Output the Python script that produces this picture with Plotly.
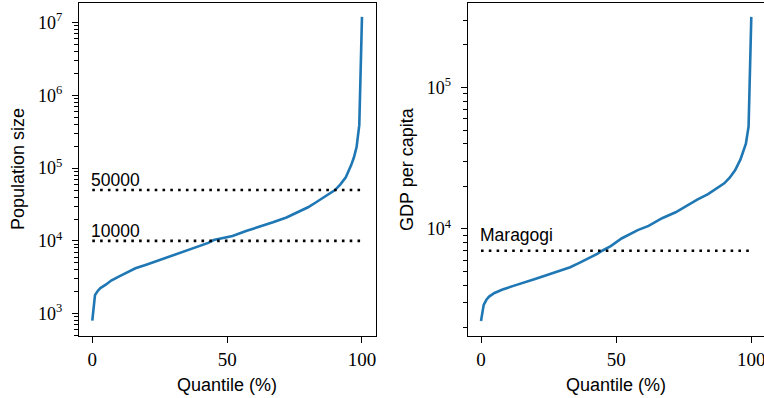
import math
import plotly.graph_objects as go

# Quantile curves (percent -> value)
pop_quantile = [0, 1, 2, 3, 5, 7, 10, 13, 16, 20, 25, 30, 35, 40, 43, 45, 48, 52, 57,
                62, 67, 72, 77, 80, 83, 86, 88, 90, 92, 94, 96, 97, 98, 99, 100]
pop_size = [800, 1800, 2050, 2250, 2500, 2850, 3250, 3650, 4200, 4700, 5450, 6300,
            7300, 8600, 9400, 10300, 10800, 11700, 13700, 15600, 18000, 21000, 26000,
            29000, 34000, 40000, 45000, 50000, 60000, 75000, 110000, 140000, 195000,
            390000, 12000000]

gdp_quantile = [0, 1, 2, 3, 5, 8, 12, 16, 20, 25, 30, 33, 36, 40, 43, 45, 48, 52, 55,
                58, 62, 67, 72, 76, 80, 84, 87, 90, 92, 94, 96, 97, 98, 99, 100]
gdp_per_capita = [2230, 2900, 3150, 3320, 3520, 3720, 3950, 4200, 4420, 4750, 5100,
                  5350, 5700, 6200, 6650, 7030, 7550, 8550, 9200, 9800, 10500, 11900,
                  13100, 14600, 16100, 17600, 19200, 21000, 23000, 26000, 31000, 35000,
                  40000, 53000, 316000]

pop_thresholds = [50000, 10000]
pop_threshold_labels = ["50000", "10000"]
maragogi_gdp = 7000
maragogi_label = "Maragogi"

x_ticks = [0, 50, 100]
pop_ticks = [1e3, 1e4, 1e5, 1e6, 1e7]
pop_tick_text = ["10<sup>3</sup>", "10<sup>4</sup>", "10<sup>5</sup>", "10<sup>6</sup>", "10<sup>7</sup>"]
gdp_ticks = [1e4, 1e5]
gdp_tick_text = ["10<sup>4</sup>", "10<sup>5</sup>"]

W, H = 764, 398
BLUE = "#1f77b4"
SANS = "Liberation Sans, Arial, sans-serif"
SERIF = "Liberation Serif, Times New Roman, serif"


def minor_logs(lo, hi):
    vals = []
    for e in range(lo, hi + 1):
        for m in range(2, 10):
            vals.append(m * 10 ** e)
    return vals


fig = go.Figure()

fig.add_trace(go.Scatter(x=pop_quantile, y=pop_size, mode="lines",
                         line=dict(color=BLUE, width=2.6), xaxis="x", yaxis="y",
                         showlegend=False))
for val in pop_thresholds:
    fig.add_trace(go.Scatter(x=[0, 100], y=[val, val], mode="lines",
                             line=dict(color="black", width=2.6, dash="2.6px,5.2px"),
                             xaxis="x", yaxis="y", showlegend=False))

fig.add_trace(go.Scatter(x=gdp_quantile, y=gdp_per_capita, mode="lines",
                         line=dict(color=BLUE, width=2.6), xaxis="x2", yaxis="y2",
                         showlegend=False))
fig.add_trace(go.Scatter(x=[0, 100], y=[maragogi_gdp, maragogi_gdp], mode="lines",
                         line=dict(color="black", width=2.6, dash="2.6px,5.2px"),
                         xaxis="x2", yaxis="y2", showlegend=False))

axis_common = dict(showline=True, linecolor="black", linewidth=1.1, mirror=True,
                   showgrid=False, zeroline=False, ticks="outside", ticklen=6,
                   tickwidth=1.1, tickcolor="black", automargin=False,
                   ticklabeloverflow="allow")

xdom1 = [79 / W, 376 / W]
xdom2 = [467.7 / W, 1.0]
ydom = [(H - 336) / H, 1 - 3 / H]

fig.update_layout(
    width=W, height=H, margin=dict(l=0, r=0, t=0, b=0),
    paper_bgcolor="white", plot_bgcolor="white",
    xaxis=dict(domain=xdom1, range=[-4.93, 105.2], tickvals=x_ticks,
               tickfont=dict(family=SERIF, size=19, color="black"),
               anchor="y", **axis_common),
    yaxis=dict(domain=ydom, type="log", range=[2.693, 7.27], tickvals=pop_ticks,
               ticktext=pop_tick_text, anchor="x", ticklabelstandoff=6,
               tickfont=dict(family=SERIF, size=18, color="black"),
               minor=dict(tickvals=minor_logs(2, 7), ticks="outside", ticklen=3.5,
                          tickwidth=0.9, tickcolor="black", showgrid=False),
               **axis_common),
    xaxis2=dict(domain=xdom2, range=[-4.92, 104.7], tickvals=x_ticks,
                tickfont=dict(family=SERIF, size=19, color="black"),
                anchor="y2", **axis_common),
    yaxis2=dict(domain=ydom, type="log", range=[3.242, 5.598], tickvals=gdp_ticks,
                ticktext=gdp_tick_text, anchor="x2", ticklabelstandoff=6,
                tickfont=dict(family=SERIF, size=18, color="black"),
                minor=dict(tickvals=minor_logs(3, 5), ticks="outside", ticklen=3.5,
                           tickwidth=0.9, tickcolor="black", showgrid=False),
                **axis_common),
)

# Labels sitting on the reference lines (log axes take log10 positions)
label_font = dict(family=SANS, size=17.5, color="black")
annotations = []
for val, label in zip(pop_thresholds, pop_threshold_labels):
    annotations.append(dict(x=0, y=math.log10(val), xref="x", yref="y", text=label,
                            showarrow=False, xanchor="left", yanchor="bottom",
                            yshift=-2, xshift=-3, font=label_font))
annotations.append(dict(x=0, y=math.log10(maragogi_gdp), xref="x2", yref="y2",
                        text=maragogi_label, showarrow=False, xanchor="left",
                        yanchor="bottom", yshift=4, xshift=-3, font=label_font))

# Axis titles
title_font = dict(family=SANS, size=18, color="black")
annotations += [
    dict(x=18 / W, y=1 - 169 / H, xref="paper", yref="paper", text="Population size",
         textangle=-90, showarrow=False, xanchor="center", yanchor="middle",
         font=title_font),
    dict(x=407 / W, y=1 - 169 / H, xref="paper", yref="paper", text="GDP per capita",
         textangle=-90, showarrow=False, xanchor="center", yanchor="middle",
         font=title_font),
    dict(x=227 / W, y=1 - 385 / H, xref="paper", yref="paper", text="Quantile (%)",
         showarrow=False, xanchor="center", yanchor="middle", font=title_font),
    dict(x=616 / W, y=1 - 385 / H, xref="paper", yref="paper", text="Quantile (%)",
         showarrow=False, xanchor="center", yanchor="middle", font=title_font),
]
fig.update_layout(annotations=annotations)

fig.write_html("out.html")
